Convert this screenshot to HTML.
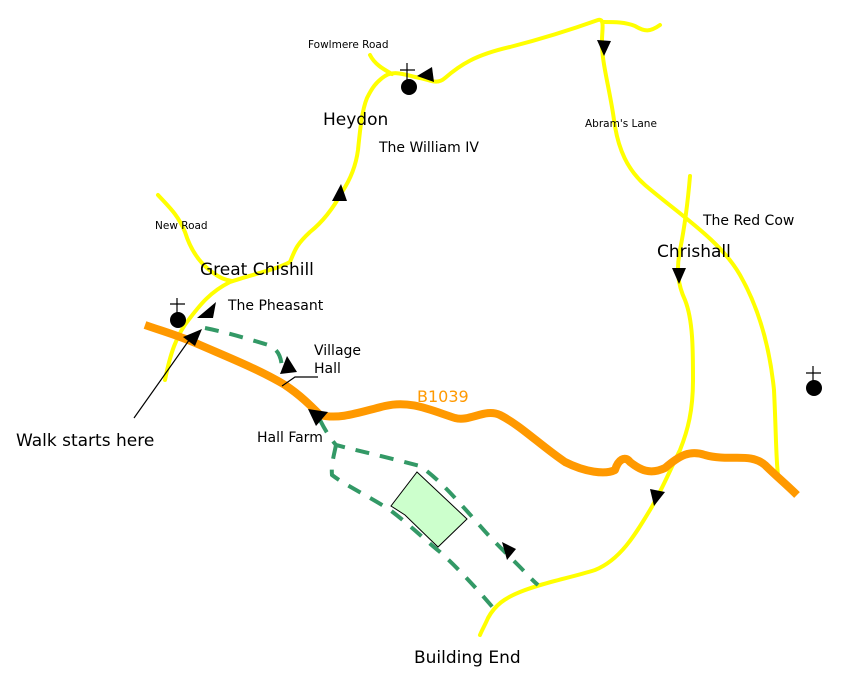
<!DOCTYPE html>
<html><head><meta charset="utf-8"><style>
html,body{margin:0;padding:0;background:#fff;}
svg{display:block;}
text{font-family:"DejaVu Sans","Liberation Sans",sans-serif;fill:#000;}
</style></head><body>
<svg width="854" height="684" viewBox="0 0 854 684" xmlns="http://www.w3.org/2000/svg">
<g fill="none" stroke="#ffff00" stroke-width="4" stroke-linejoin="round" stroke-linecap="round">
<path d="M165,380 C170,355 176,335 190,318 C200,305 210,292 230,282 C250,275 275,270 290,262 C295,250 296,245 310,232 C325,220 335,205 342,192 C350,180 356,165 358,150 C360,130 362,110 367,98 C372,88 376,82 385,76 C395,70 405,75 420,78 C430,80 437,85 445,78 C460,65 475,55 510,47 C545,38 570,30 598,20 C605,18 602,30 602,40 C601,60 610,90 614,120 C618,150 628,170 645,185 C680,215 720,240 740,275 C760,310 770,350 774,390 C776,430 776,460 778,475"/>
<path d="M370,55 C375,65 385,70 392,74"/>
<path d="M603,22 C615,22 625,22 635,26 C645,32 650,32 660,25"/>
<path d="M158,195 C170,208 178,215 185,232 C190,248 198,262 212,272 C220,278 225,280 232,281"/>
<path d="M690,176 C688,200 685,225 680,250 C676,270 678,285 685,300 C693,320 693,350 693,380 C693,410 688,430 680,450 C670,470 662,490 650,510 C635,535 620,560 595,570 C570,578 545,582 520,592 C505,598 495,605 488,618 C485,625 482,630 480,635"/>
</g>
<path d="M145,325 C165,332 180,336 200,345 C230,358 260,370 285,385 C300,395 310,405 320,415 C340,420 360,412 385,406 C410,400 430,410 455,418 C470,422 485,408 500,415 C520,425 540,445 565,462 C585,472 605,475 615,470 C618,460 625,455 630,462 C640,470 650,475 665,468 C680,455 690,450 705,455 C730,462 750,452 765,465 C775,475 787,485 797,495" fill="none" stroke="#ff9900" stroke-width="8" stroke-linejoin="round"/>
<g fill="none" stroke="#339966" stroke-width="4" stroke-dasharray="14,11">
<path d="M205,328 C225,332 245,338 265,344 C280,348 282,360 282,372"/>
<path d="M320,420 C325,430 330,438 336,445 C355,450 390,458 420,466 C440,480 455,498 475,520 C490,538 505,552 518,565 C525,572 532,580 538,585"/>
<path d="M336,445 C334,455 331,465 332,475 C345,485 370,497 390,510 C410,525 425,540 440,552 C460,570 478,590 495,610"/>
</g>
<path d="M417,472 L467,519 L438,547 L405,515 L391,506 Z" fill="#ccffcc" stroke="#000" stroke-width="1"/>
<g fill="#000">
<polygon points="197,318 216,302 213,318"/>
<polygon points="183,337 202,329 195,346"/>
<polygon points="280,374 287,356 297,372"/>
<polygon points="308,409 328,412 316,426"/>
<polygon points="332,201 341,184 347,201"/>
<polygon points="417,76 432,67 434,82"/>
<polygon points="597,40 611,41 604,56"/>
<polygon points="672,268 686,268 679,284"/>
<polygon points="650,489 665,492 654,506"/>
<polygon points="502,542 516,549 507,560"/>
<circle cx="409" cy="87" r="8"/>
<circle cx="178" cy="320" r="8"/>
<circle cx="814" cy="388" r="8"/>
</g>
<g stroke="#000" stroke-width="1.2" fill="none">
<path d="M407,63 V81 M400,70 H415"/>
<path d="M177,298 V313 M170,304 H185"/>
<path d="M813,366 V381 M806,373 H821"/>
<path d="M134,418 L192,336"/>
<path d="M282,386 L295,377 H318"/>
</g>
<text x="308" y="48" font-size="10.5">Fowlmere Road</text>
<text x="323" y="125" font-size="17">Heydon</text>
<text x="379" y="152" font-size="14">The William IV</text>
<text x="585" y="127" font-size="10.5">Abram's Lane</text>
<text x="155" y="229" font-size="10.5">New Road</text>
<text x="703" y="225" font-size="14">The Red Cow</text>
<text x="657" y="257" font-size="17">Chrishall</text>
<text x="200" y="275" font-size="17">Great Chishill</text>
<text x="228" y="310" font-size="14">The Pheasant</text>
<text x="314" y="355" font-size="14">Village</text>
<text x="314" y="373" font-size="14">Hall</text>
<text x="417" y="402" font-size="16" style="fill:#ff9900">B1039</text>
<text x="16" y="446" font-size="17">Walk starts here</text>
<text x="257" y="442" font-size="14">Hall Farm</text>
<text x="414" y="663" font-size="17">Building End</text>
</svg>
</body></html>
